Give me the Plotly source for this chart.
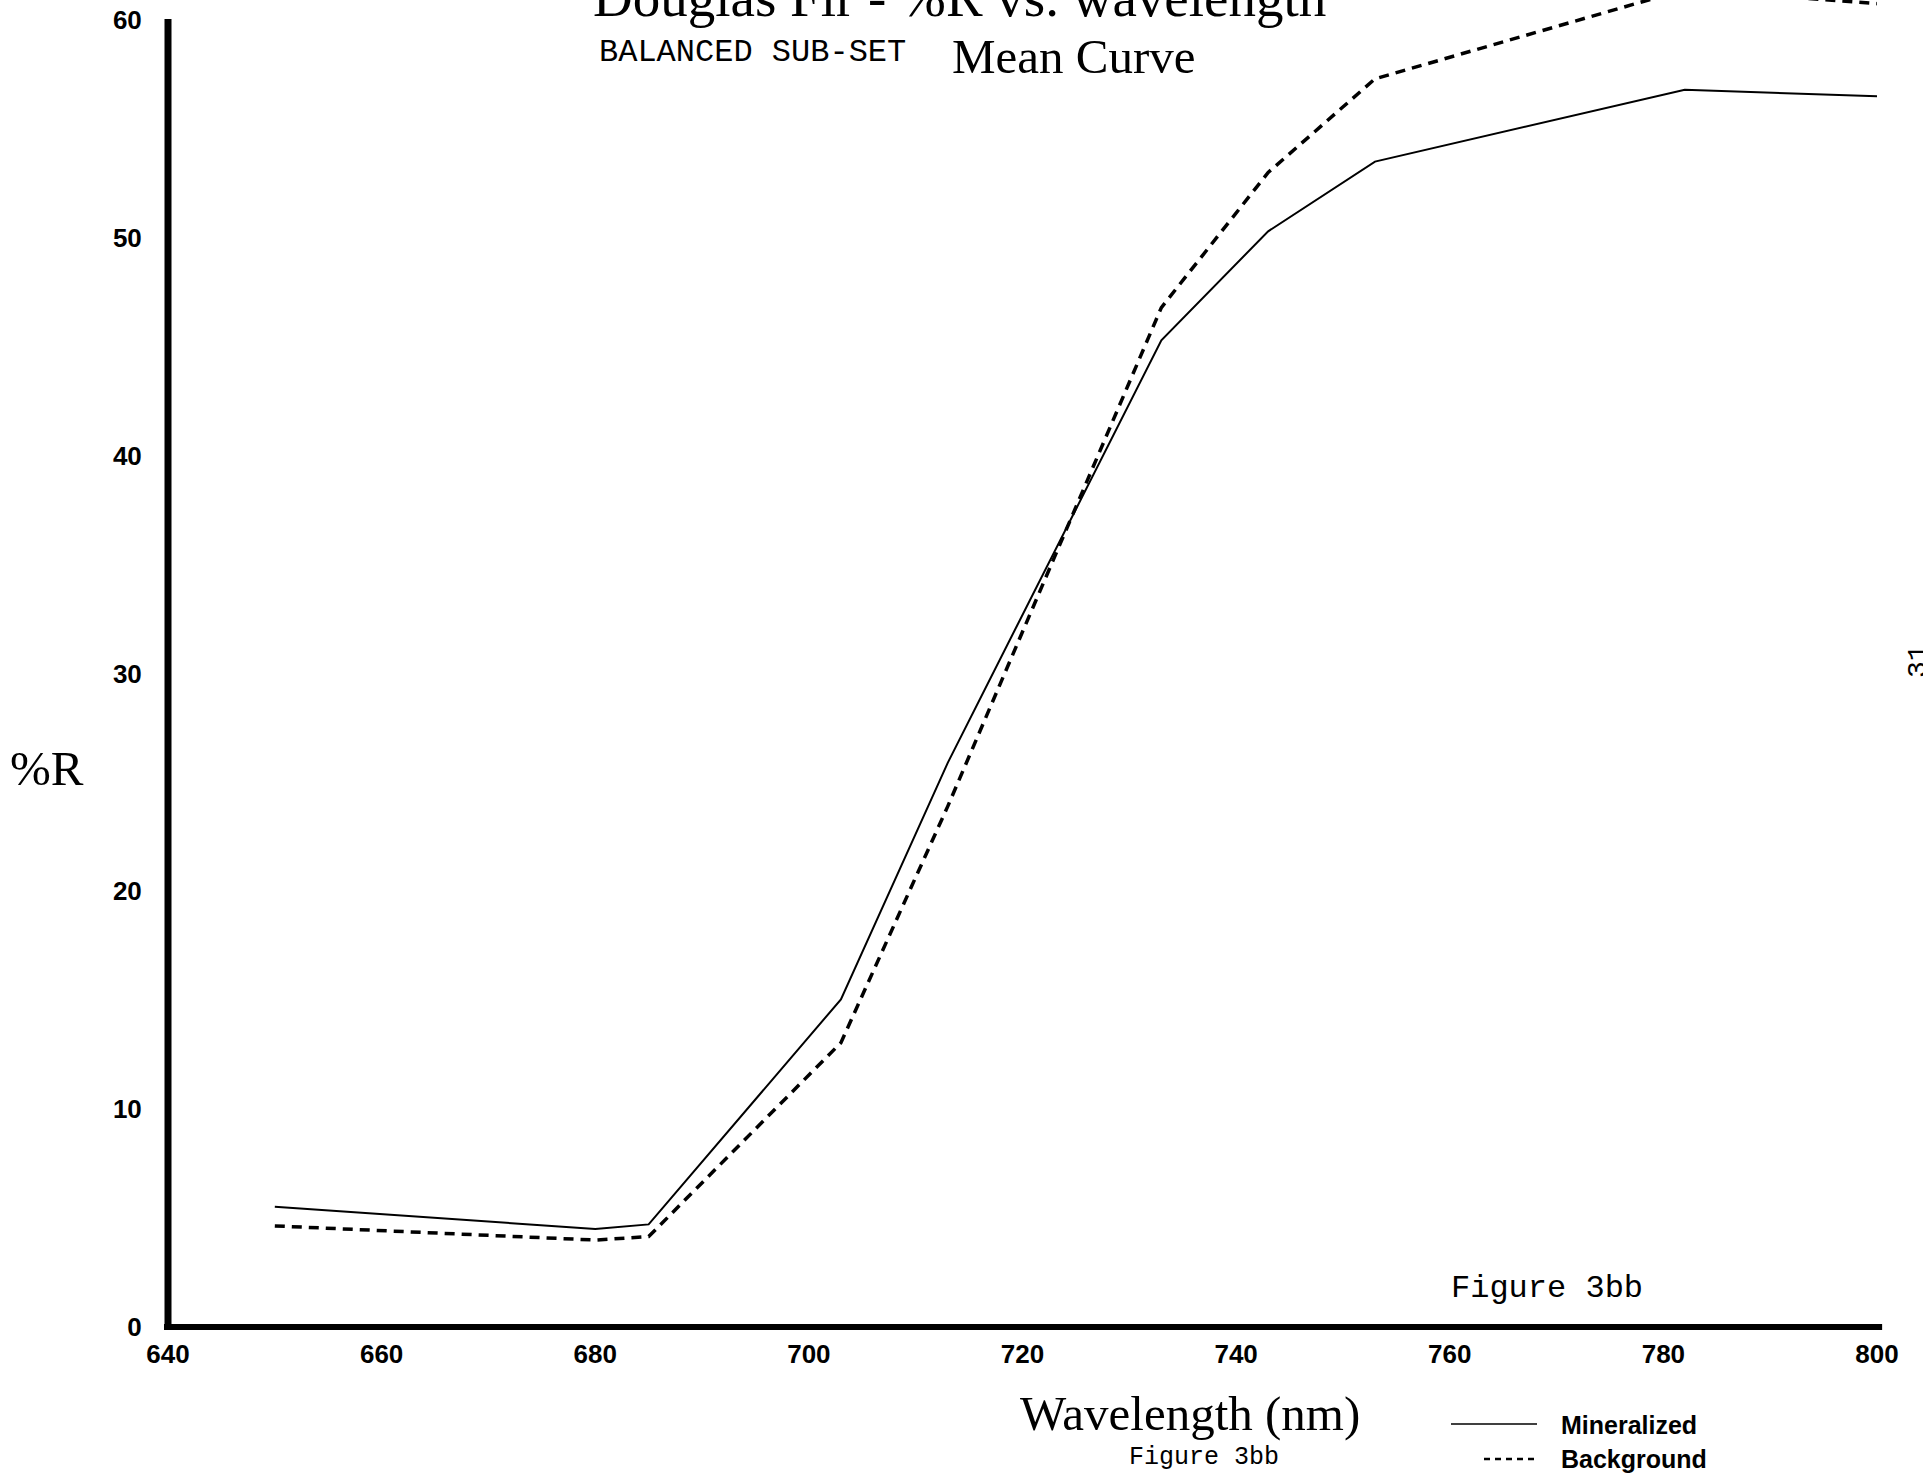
import plotly.graph_objects as go

# ---- data ----
wavelength = [650, 680, 685, 703, 713, 733, 743, 753, 782, 800]
mineralized = [5.52, 4.50, 4.71, 15.04, 25.9, 45.3, 50.3, 53.5, 56.8, 56.5]
background = [4.64, 3.99, 4.15, 13.05, 23.9, 46.8, 53.0, 57.3, 61.4, 60.75]

x_ticks = [640, 660, 680, 700, 720, 740, 760, 780, 800]
y_ticks = [0, 10, 20, 30, 40, 50, 60]

W, H = 1923, 1473
L, R, T, B = 168, 46, 0, 146
PW, PH = W - L - R, H - T - B
YTOP = 60 * PH / (PH - 20)  # value at the top edge of the plot area


def px(xp):
    return (xp - L) / PW


def py(yp):
    return (H - B - yp) / PH


serif = "Liberation Serif, Times New Roman, serif"
mono = "Liberation Mono, Courier New, monospace"
sans = "Liberation Sans, Arial, sans-serif"

fig = go.Figure()
fig.add_trace(go.Scatter(x=wavelength, y=mineralized, mode="lines", name="Mineralized",
                         line=dict(color="black", width=2)))
fig.add_trace(go.Scatter(x=wavelength, y=background, mode="lines", name="Background",
                         line=dict(color="black", width=3.5, dash="10px,7px")))

# axis lines (paper-referenced so they are not clipped at the plot edge)
fig.add_shape(type="line", xref="paper", yref="paper", x0=0, x1=0, y0=py(1330), y1=py(19),
              line=dict(color="black", width=7), layer="above")
fig.add_shape(type="line", xref="paper", yref="paper", x0=px(164), x1=1.003, y0=0, y1=0,
              line=dict(color="black", width=6), layer="above")

# legend samples
fig.add_shape(type="line", xref="paper", yref="paper", x0=px(1451), x1=px(1537),
              y0=py(1424), y1=py(1424), line=dict(color="black", width=1.5))
fig.add_shape(type="line", xref="paper", yref="paper", x0=px(1484), x1=px(1537),
              y0=py(1459), y1=py(1459), line=dict(color="black", width=2.5, dash="6px,5px"))

ann = []
ann.append(dict(text="Douglas Fir - %R vs. wavelength", x=px(591), y=py(30), xanchor="left",
                yanchor="bottom", font=dict(family=serif, size=55, color="black")))
ann.append(dict(text="BALANCED SUB-SET", x=px(597), y=py(53), xanchor="left", yanchor="middle",
                font=dict(family=mono, size=32, color="black")))
ann.append(dict(text="Mean Curve", x=px(950), y=py(56), xanchor="left", yanchor="middle",
                font=dict(family=serif, size=49, color="black")))
ann.append(dict(text="%R", x=px(47), y=py(768), xanchor="center", yanchor="middle",
                font=dict(family=serif, size=49, color="black")))
ann.append(dict(text="Wavelength (nm)", x=px(1190), y=py(1413), xanchor="center", yanchor="middle",
                font=dict(family=serif, size=49, color="black")))
ann.append(dict(text="Figure 3bb", x=px(1204), y=py(1458), xanchor="center", yanchor="middle",
                font=dict(family=mono, size=25, color="black")))
ann.append(dict(text="Figure 3bb", x=px(1449), y=py(1288), xanchor="left", yanchor="middle",
                font=dict(family=mono, size=32, color="black")))
ann.append(dict(text="Mineralized", x=px(1559), y=py(1425), xanchor="left", yanchor="middle",
                font=dict(family=sans, size=25, color="black", weight="bold")))
ann.append(dict(text="Background", x=px(1559), y=py(1459), xanchor="left", yanchor="middle",
                font=dict(family=sans, size=25, color="black", weight="bold")))
ann.append(dict(text="31", x=px(1918), y=py(661), xanchor="center", yanchor="middle", textangle=-90,
                font=dict(family=mono, size=28, color="black")))
for a in ann:
    a.update(xref="paper", yref="paper", showarrow=False)

fig.update_layout(
    width=W, height=H,
    margin=dict(l=L, r=R, t=T, b=B, pad=0),
    paper_bgcolor="white", plot_bgcolor="white",
    showlegend=False,
    annotations=ann,
    xaxis=dict(range=[640, 800], tickvals=x_ticks, ticktext=[str(v) for v in x_ticks],
               showgrid=False, zeroline=False, showline=False,
               ticks="outside", ticklen=4, tickcolor="rgba(0,0,0,0)",
               tickfont=dict(family=sans, size=26, color="black", weight="bold")),
    yaxis=dict(range=[0, YTOP], tickvals=y_ticks, ticktext=[str(v) for v in y_ticks],
               showgrid=False, zeroline=False, showline=False,
               ticks="outside", ticklen=20, tickcolor="rgba(0,0,0,0)",
               tickfont=dict(family=sans, size=26, color="black", weight="bold")),
)

fig.write_html("out.html")
